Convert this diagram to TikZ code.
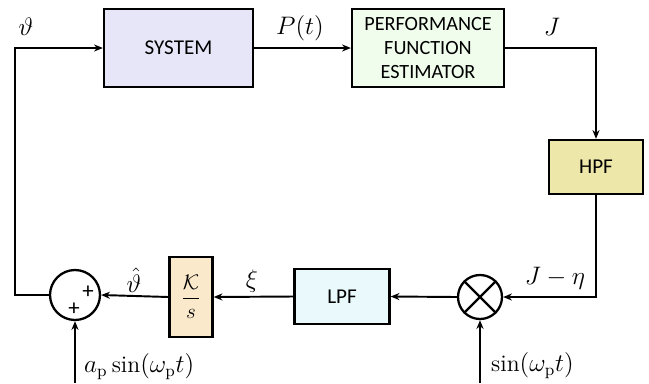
\documentclass[tikz,border=0pt]{standalone}
\usepackage{fontspec}
\newfontfamily\boxfont{Carlito}
\usepackage{amsmath}
\usetikzlibrary{arrows.meta}
\definecolor{sysc}{HTML}{E6E6F8}
\definecolor{pfec}{HTML}{F0FCEC}
\definecolor{hpfc}{HTML}{EEE7AA}
\definecolor{ksc}{HTML}{FAEACB}
\definecolor{lpfc}{HTML}{EAFAFC}
\begin{document}
\begin{tikzpicture}[x=0.02cm,y=-0.02cm,
  blk/.style={draw,line width=1.3pt,rectangle,inner sep=0pt,font=\boxfont\fontsize{12}{13.5}\selectfont,align=center},
  arr/.style={line width=1.1pt,-{Stealth[length=5pt,width=4pt]}},
  lbl/.style={font=\fontsize{13.5}{15}\selectfont}]
\useasboundingbox (0,0) rectangle (649,383);
\node[blk,fill=sysc,minimum width=2.98cm,minimum height=1.56cm] (sys) at (178.5,48) {SYSTEM};
\node[blk,fill=pfec,minimum width=3.04cm,minimum height=1.56cm,font=\boxfont\fontsize{11.5}{13.5}\selectfont] (pfe) at (428,48) {PERFORMANCE\\FUNCTION\\ESTIMATOR};
\node[blk,fill=hpfc,minimum width=1.88cm,minimum height=1.08cm] (hpf) at (596,167) {HPF};
\node[draw,circle,line width=1.3pt,minimum size=0.88cm,inner sep=0pt] (mul) at (480,297) {};
\draw[line width=1.3pt] (mul.north west) -- (mul.south east) (mul.north east) -- (mul.south west);
\node[blk,fill=lpfc,minimum width=1.9cm,minimum height=1.1cm] (lpf) at (342,296.5) {LPF};
\node[blk,fill=ksc,minimum width=0.86cm,minimum height=1.6cm,font=\fontsize{12.5}{13}\selectfont] (ks) at (191,297) {$\dfrac{\mathcal{K}}{s}$};
\node[draw,circle,line width=1.3pt,minimum size=1.0cm,inner sep=0pt] (sum) at (75,295) {};
\node[font=\boxfont\fontsize{13}{13}\selectfont] (p1) at (88,292) {+};
\node[font=\boxfont\fontsize{13}{13}\selectfont] (p2) at (74,309) {+};
\coordinate (tl) at (15,48);
\coordinate (bl) at (15,295);
\coordinate (tr) at (596,48);
\coordinate (br) at (596,297);
\coordinate (in1) at (75,383);
\coordinate (in2) at (480,383);
\draw[arr] (sum.west) -- (bl) -- (tl) -- (sys.west);
\draw[arr] (sys.east) -- (pfe.west);
\draw[arr] (pfe.east) -- (tr) -- (hpf.north);
\draw[arr] (hpf.south) -- (br) -- (mul.east);
\draw[arr] (mul.west) -- (lpf.east);
\draw[arr] (lpf.west) -- (ks.east);
\draw[arr] (ks.west) -- (sum.east);
\draw[arr] (in1) -- (sum.south);
\draw[arr] (in2) -- (mul.south);
\node[lbl] (l1) at (26,27) {$\vartheta$};
\node[lbl] (l2) at (300,28) {$P(t)$};
\node[lbl] (l3) at (552,27) {$J$};
\node[lbl] (l4) at (555,278) {$J-\eta$};
\node[lbl] (l5) at (252,281) {$\xi$};
\node[lbl] (l6) at (134,280) {$\hat{\vartheta}$};
\node[lbl,anchor=west] (l7) at (78,367) {$a_{\mathrm{p}}\sin(\omega_{\mathrm{p}}t)$};
\node[lbl,anchor=west] (l8) at (485,366) {$\sin(\omega_{\mathrm{p}}t)$};
\end{tikzpicture}
\end{document}
